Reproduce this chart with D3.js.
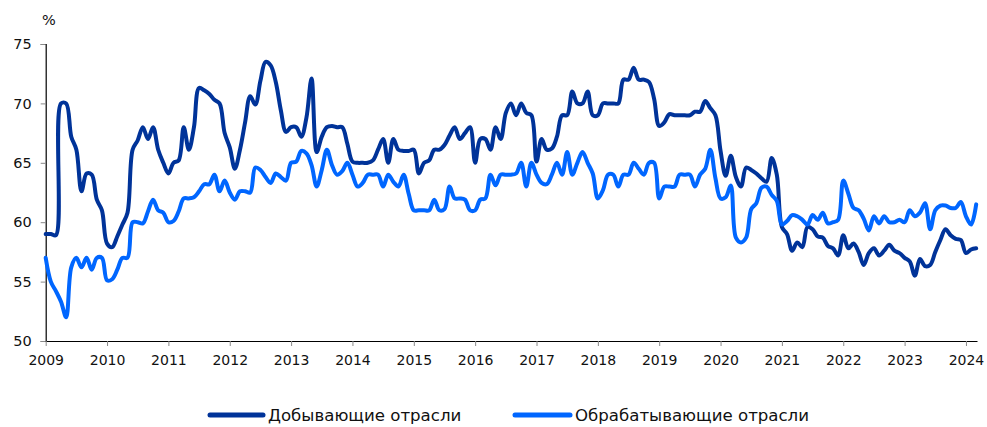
<!DOCTYPE html>
<html>
<head>
<meta charset="utf-8">
<script src="https://cdn.jsdelivr.net/npm/d3@7"></script>
<style>
  html, body { margin: 0; padding: 0; background: #ffffff; }
  svg { display: block; }
  text { font-family: "DejaVu Sans", Verdana, sans-serif; fill: #111; }
</style>
</head>
<body>
<svg id="chart" width="987" height="427"></svg>
<script>
// ---- Data (monthly, Jan 2009 – Mar 2024), % ----
const startYear = 2009;
const seriesNames = ["Добывающие отрасли", "Обрабатывающие отрасли"];
const yTicks = [50, 55, 60, 65, 70, 75];
const xTickYears = [2009, 2010, 2011, 2012, 2013, 2014, 2015, 2016, 2017, 2018, 2019, 2020, 2021, 2022, 2023, 2024];

const mining = [
  59, 59, 58.9, 70, 70, 67.2, 66.1, 62.6, 64.1, 64, 61.9, 61,
  58.2, 57.9, 58.8, 59.8, 60.8, 66.1, 66.9, 68, 67, 68, 66.1, 65,
  64.1, 65, 65.2, 68, 66.1, 68, 71.3, 71.1, 70.8, 70.3, 70, 67.5,
  66.3, 64.5, 66.1, 68.4, 70.6, 69.9, 71.9, 73.5, 73.2, 71.8, 69.4, 67.6,
  68, 68, 67.2, 68.8, 72.1, 65.9, 67.2, 68, 68.1, 68, 68, 66.6,
  65.1, 65, 65, 65, 65.2, 66.1, 67, 65, 67, 66.1, 66, 66,
  66.1, 64.1, 65, 65.2, 66.1, 66.1, 66.5, 67.3, 68, 67, 67.5, 68,
  65, 67, 67, 66.1, 68, 67, 69.2, 70, 69, 70, 69.2, 69,
  65.1, 67, 66.1, 66.2, 67.2, 69, 69, 71, 70, 70, 71, 69,
  69, 70, 70, 70, 70, 72, 72, 73, 72, 72, 71.8, 70.4,
  68.1, 68.4, 69.1, 69, 69, 69, 69, 69.3, 69.3, 70.2, 69.6, 69,
  66, 63.9, 65.6, 63.8, 63, 64.6, 64.4, 64.1, 63.7, 63.4, 65.4, 64,
  59.6, 59, 57.6, 58.3, 57.9, 59.6, 59.4, 58.8, 58.7, 58, 57.8, 57.2,
  58.9, 57.8, 58.2, 57.5, 56.4, 57.4, 57.8, 57.2, 57.6, 58.1, 57.6, 57.4,
  57, 56.7, 55.5, 56.9, 56.3, 56.4, 57.5, 58.5, 59.4, 58.9, 58.6, 58.5,
  57.4, 57.7, 57.8
];

const manufacturing = [
  57, 55, 54.2, 53.3, 52, 56.2, 57, 56.2, 57, 56, 57, 57,
  55.1, 55.2, 56, 57, 57, 60, 60, 59.9, 60.9, 61.9, 61, 60.8,
  60, 60.1, 60.9, 62, 62, 62.1, 62.6, 63.2, 63.2, 64, 62.6, 63.5,
  62.5, 61.9, 62.6, 62.6, 62.5, 64.6, 64.4, 63.8, 63.3, 64.1, 63.8, 63.5,
  65, 65.1, 66, 65.8, 64.8, 63, 64.4, 66.1, 64.8, 64, 64.3, 65,
  64, 63, 63.3, 64, 64, 64, 63, 64, 63.4, 63, 64, 62.4,
  61, 61, 61, 61, 61.9, 61, 61.1, 63, 62, 62, 61.9, 61,
  61, 61.9, 62, 64, 63.1, 64, 64, 64, 64.1, 65, 63, 65,
  64, 63.3, 63.2, 64, 65, 64, 65.9, 64, 65, 65.9, 65, 64.1,
  62, 62.7, 64, 64, 63, 64, 64, 65, 64.5, 64, 65, 65,
  62, 63, 63, 63, 64, 64, 64, 63, 64, 64.5, 66.1, 63.7,
  62, 62.1, 63.1, 58.7, 58.3, 58.7, 61.1, 61.6, 62.9, 63, 62.3, 61.8,
  59.8, 60.1, 60.6, 60.5, 60.2, 59.8, 60.6, 60.2, 60.8, 59.9, 60, 60.2,
  63.5, 62.4, 61.2, 61, 60.3, 59.3, 60.5, 59.9, 60.5, 60, 60, 60.2,
  60, 61, 60.5, 60.8, 61.6, 59.4, 61, 61.4, 61.4, 61.2, 61.2, 61.7,
  60.5, 59.8, 61.5
];

const colors = ["#003399", "#0066ff"];

// ---- Layout ----
const svg = d3.select("#chart");
const mLeft = 45.7, mRight = 977, mTop = 44, mBottom = 341;

const x = d3.scaleLinear().domain([2009, 2024.18]).range([mLeft, mRight]);
const y = d3.scaleLinear().domain([50, 75]).range([mBottom, mTop]);

const toPoints = arr => arr.map((v, i) => ({ t: startYear + i / 12, v }));
const series = [toPoints(mining), toPoints(manufacturing)];

const line = d3.line()
  .x(d => x(d.t))
  .y(d => y(d.v))
  .curve(d3.curveCatmullRom.alpha(0.5));

// y axis
const yAxis = d3.axisLeft(y).tickValues(yTicks).tickSize(5).tickPadding(9).tickFormat(d3.format("d"));
const gy = svg.append("g").attr("transform", `translate(${mLeft},0)`).call(yAxis);
gy.select(".domain").attr("stroke", "#000").attr("stroke-width", 1.2);
gy.selectAll(".tick line").attr("stroke", "#888");
gy.selectAll(".tick text").style("font-size", "14.5px").attr("fill", "#111");

// x axis
const xAxis = d3.axisBottom(x).tickValues(xTickYears).tickSize(5).tickSizeOuter(0).tickPadding(9).tickFormat(d3.format("d"));
const gx = svg.append("g").attr("transform", `translate(0,${mBottom})`).call(xAxis);
gx.select(".domain").attr("stroke", "#000").attr("stroke-width", 1.2);
gx.selectAll(".tick line").attr("stroke", "#888");
gx.selectAll(".tick text").style("font-size", "14px").attr("fill", "#111");

// unit label
svg.append("text").attr("x", 42).attr("y", 25).style("font-size", "14.5px").text("%");

// lines
svg.append("g").selectAll("path")
  .data(series)
  .join("path")
  .attr("fill", "none")
  .attr("stroke", (d, i) => colors[i])
  .attr("stroke-width", 4)
  .attr("stroke-linejoin", "round")
  .attr("stroke-linecap", "round")
  .attr("d", line);

// legend
const legendItems = [
  { x0: 210, x1: 263, tx: 268 },
  { x0: 515, x1: 570, tx: 575 }
];
const lg = svg.append("g");
legendItems.forEach((it, i) => {
  lg.append("line").attr("x1", it.x0).attr("x2", it.x1).attr("y1", 415).attr("y2", 415)
    .attr("stroke", colors[i]).attr("stroke-width", 5).attr("stroke-linecap", "round");
  lg.append("text").attr("x", it.tx).attr("y", 421).style("font-size", "16.6px").text(seriesNames[i]);
});
</script>
</body>
</html>
